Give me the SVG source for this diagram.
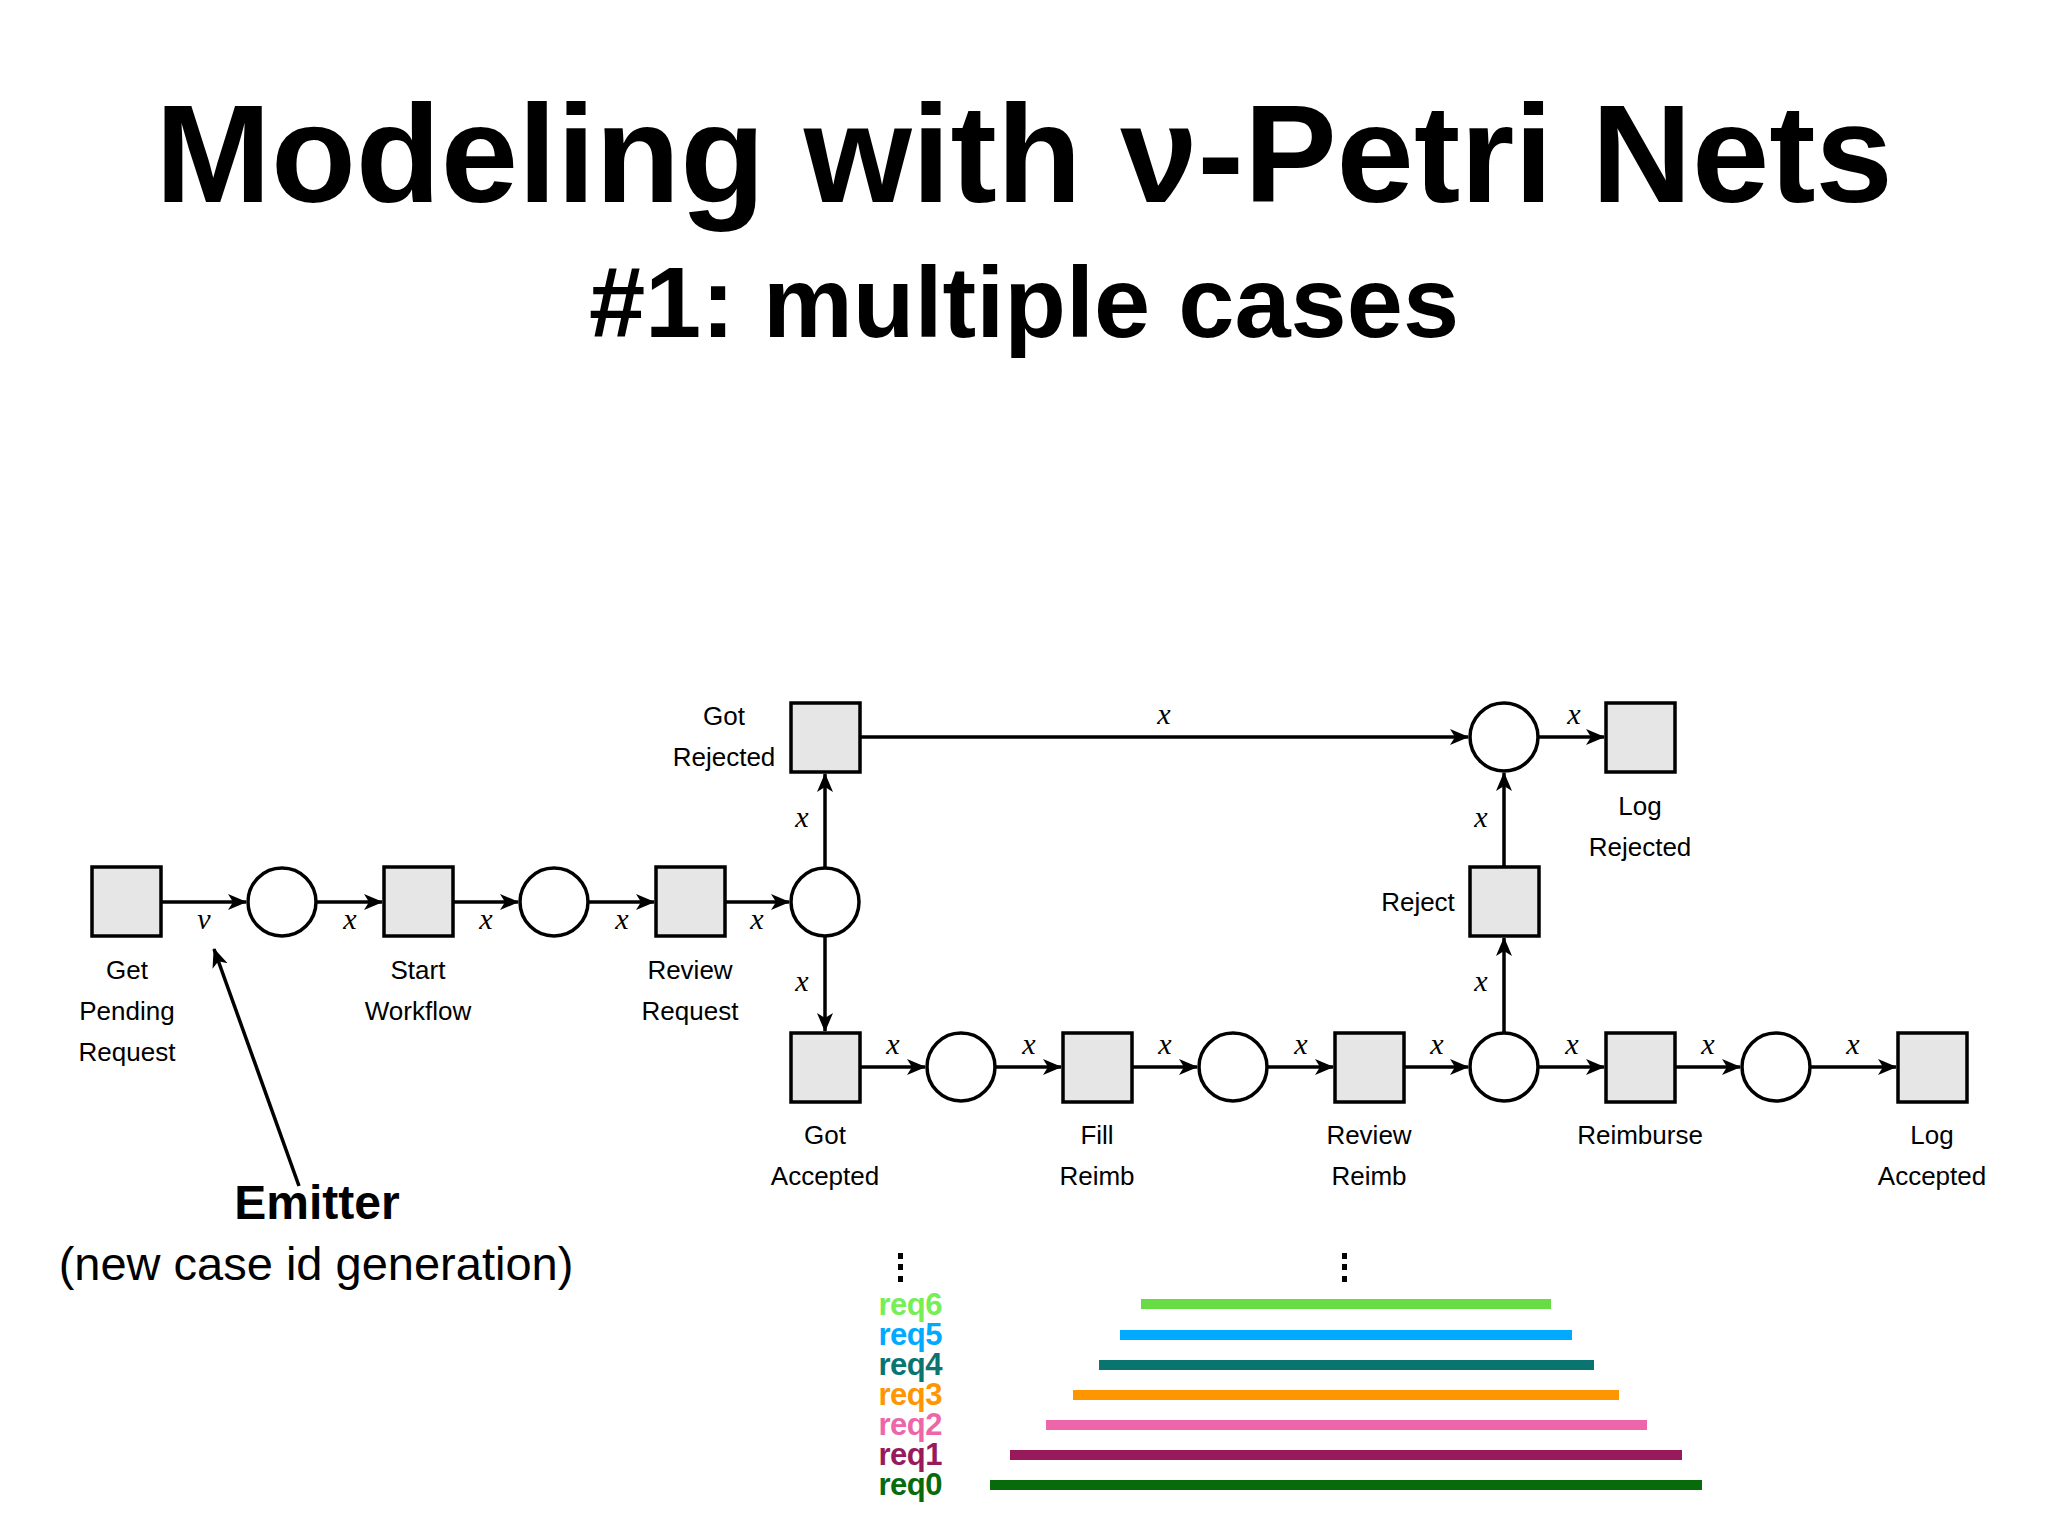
<svg xmlns="http://www.w3.org/2000/svg" width="2048" height="1536" viewBox="0 0 2048 1536">
<style>
.t{fill:#e6e6e6;stroke:#000;stroke-width:3.5}
.p{fill:#fff;stroke:#000;stroke-width:3.5}
.a{stroke:#000;stroke-width:3.5;fill:none;marker-end:url(#ah)}
.lb{font-family:"Liberation Sans",Arial,sans-serif;font-size:26px;text-anchor:middle;fill:#000}
.x{font-family:"Liberation Serif","DejaVu Serif",serif;font-style:italic;font-size:30px;text-anchor:middle;fill:#000}
.r{font-family:"Liberation Sans",Arial,sans-serif;font-weight:bold;font-size:31px;text-anchor:end;letter-spacing:-0.5px}
.bar{stroke-width:10}
</style>
<defs>
<marker id="ah" markerWidth="20" markerHeight="20" refX="18" refY="10" orient="auto" markerUnits="userSpaceOnUse" viewBox="0 0 20 20">
<path d="M0,2 L19,10 L0,18 L5,10 Z" fill="#000"/>
</marker>
</defs>
<rect width="2048" height="1536" fill="#fff"/>
<text x="1024" y="202" font-family="Liberation Sans,Arial,sans-serif" font-weight="bold" font-size="139" text-anchor="middle">Modeling with ν-Petri Nets</text>
<text x="1024" y="337" font-family="Liberation Sans,Arial,sans-serif" font-weight="bold" font-size="101" text-anchor="middle">#1: multiple cases</text>

<g id="connectors">
<line class="a" x1="161" y1="902" x2="246" y2="902"/>
<line class="a" x1="316" y1="902" x2="382" y2="902"/>
<line class="a" x1="453" y1="902" x2="518" y2="902"/>
<line class="a" x1="588" y1="902" x2="654" y2="902"/>
<line class="a" x1="725" y1="902" x2="789" y2="902"/>
<line class="a" x1="825" y1="868" x2="825" y2="774"/>
<line class="a" x1="825" y1="936" x2="825" y2="1031"/>
<line class="a" x1="860" y1="737" x2="1468" y2="737"/>
<line class="a" x1="1538" y1="737" x2="1604" y2="737"/>
<line class="a" x1="1504" y1="867" x2="1504" y2="773"/>
<line class="a" x1="1504" y1="1032" x2="1504" y2="938"/>
<line class="a" x1="860" y1="1067" x2="925" y2="1067"/>
<line class="a" x1="995" y1="1067" x2="1061" y2="1067"/>
<line class="a" x1="1132" y1="1067" x2="1197" y2="1067"/>
<line class="a" x1="1267" y1="1067" x2="1333" y2="1067"/>
<line class="a" x1="1404" y1="1067" x2="1468" y2="1067"/>
<line class="a" x1="1538" y1="1067" x2="1604" y2="1067"/>
<line class="a" x1="1675" y1="1067" x2="1740" y2="1067"/>
<line class="a" x1="1810" y1="1067" x2="1896" y2="1067"/>
<line class="a" x1="299" y1="1186" x2="214" y2="949"/>
<text class="x" x="204" y="929">ν</text>
<text class="x" x="350" y="929">x</text>
<text class="x" x="486" y="929">x</text>
<text class="x" x="622" y="929">x</text>
<text class="x" x="757" y="929">x</text>
<text class="x" x="802" y="827">x</text>
<text class="x" x="802" y="991">x</text>
<text class="x" x="1164" y="724">x</text>
<text class="x" x="1574" y="724">x</text>
<text class="x" x="1481" y="827">x</text>
<text class="x" x="1481" y="991">x</text>
<text class="x" x="893" y="1054">x</text>
<text class="x" x="1029" y="1054">x</text>
<text class="x" x="1165" y="1054">x</text>
<text class="x" x="1301" y="1054">x</text>
<text class="x" x="1437" y="1054">x</text>
<text class="x" x="1572" y="1054">x</text>
<text class="x" x="1708" y="1054">x</text>
<text class="x" x="1853" y="1054">x</text>
</g>

<g id="getPending"><rect class="t" x="92" y="867" width="69" height="69"/><text class="lb" x="127" y="979">Get</text><text class="lb" x="127" y="1020">Pending</text><text class="lb" x="127" y="1061">Request</text></g>
<g id="p1"><circle class="p" cx="282" cy="902" r="34"/></g>
<g id="startWorkflow"><rect class="t" x="384" y="867" width="69" height="69"/><text class="lb" x="418" y="979">Start</text><text class="lb" x="418" y="1020">Workflow</text></g>
<g id="p2"><circle class="p" cx="554" cy="902" r="34"/></g>
<g id="reviewRequest"><rect class="t" x="656" y="867" width="69" height="69"/><text class="lb" x="690" y="979">Review</text><text class="lb" x="690" y="1020">Request</text></g>
<g id="p3"><circle class="p" cx="825" cy="902" r="34"/></g>
<g id="gotRejected"><rect class="t" x="791" y="703" width="69" height="69"/><text class="lb" x="724" y="725">Got</text><text class="lb" x="724" y="766">Rejected</text></g>
<g id="pRej"><circle class="p" cx="1504" cy="737" r="34"/></g>
<g id="logRejected"><rect class="t" x="1606" y="703" width="69" height="69"/><text class="lb" x="1640" y="815">Log</text><text class="lb" x="1640" y="856">Rejected</text></g>
<g id="reject"><rect class="t" x="1470" y="867" width="69" height="69"/><text class="lb" x="1418" y="911">Reject</text></g>
<g id="gotAccepted"><rect class="t" x="791" y="1033" width="69" height="69"/><text class="lb" x="825" y="1144">Got</text><text class="lb" x="825" y="1185">Accepted</text></g>
<g id="p4"><circle class="p" cx="961" cy="1067" r="34"/></g>
<g id="fillReimb"><rect class="t" x="1063" y="1033" width="69" height="69"/><text class="lb" x="1097" y="1144">Fill</text><text class="lb" x="1097" y="1185">Reimb</text></g>
<g id="p5"><circle class="p" cx="1233" cy="1067" r="34"/></g>
<g id="reviewReimb"><rect class="t" x="1335" y="1033" width="69" height="69"/><text class="lb" x="1369" y="1144">Review</text><text class="lb" x="1369" y="1185">Reimb</text></g>
<g id="p6"><circle class="p" cx="1504" cy="1067" r="34"/></g>
<g id="reimburse"><rect class="t" x="1606" y="1033" width="69" height="69"/><text class="lb" x="1640" y="1144">Reimburse</text></g>
<g id="p7"><circle class="p" cx="1776" cy="1067" r="34"/></g>
<g id="logAccepted"><rect class="t" x="1898" y="1033" width="69" height="69"/><text class="lb" x="1932" y="1144">Log</text><text class="lb" x="1932" y="1185">Accepted</text></g>

<g id="emitter">
<text x="317" y="1219" font-family="Liberation Sans,Arial,sans-serif" font-weight="bold" font-size="48" text-anchor="middle">Emitter</text>
<text x="316" y="1280" font-family="Liberation Sans,Arial,sans-serif" font-size="47" text-anchor="middle">(new case id generation)</text>
</g>

<g id="timeline">
<g fill="#000"><rect x="898" y="1253" width="5" height="6"/><rect x="898" y="1264" width="5" height="6"/><rect x="898" y="1276" width="5" height="6"/>
<rect x="1342" y="1253" width="5" height="6"/><rect x="1342" y="1264" width="5" height="6"/><rect x="1342" y="1276" width="5" height="6"/></g>
<line class="bar" x1="1141" y1="1304" x2="1551" y2="1304" stroke="#66dd44"/>
<line class="bar" x1="1120" y1="1335" x2="1572" y2="1335" stroke="#00aaff"/>
<line class="bar" x1="1099" y1="1365" x2="1594" y2="1365" stroke="#0a7570"/>
<line class="bar" x1="1073" y1="1395" x2="1619" y2="1395" stroke="#ff9500"/>
<line class="bar" x1="1046" y1="1425" x2="1647" y2="1425" stroke="#ee66aa"/>
<line class="bar" x1="1010" y1="1455" x2="1682" y2="1455" stroke="#991a5a"/>
<line class="bar" x1="990" y1="1485" x2="1702" y2="1485" stroke="#076b0a"/>
<text class="r" x="942" y="1315" fill="#77ee55">req6</text>
<text class="r" x="942" y="1345" fill="#00aaff">req5</text>
<text class="r" x="942" y="1375" fill="#0a7570">req4</text>
<text class="r" x="942" y="1405" fill="#ff9500">req3</text>
<text class="r" x="942" y="1435" fill="#ee66aa">req2</text>
<text class="r" x="942" y="1465" fill="#991a5a">req1</text>
<text class="r" x="942" y="1495" fill="#076b0a">req0</text>
</g>
</svg>
